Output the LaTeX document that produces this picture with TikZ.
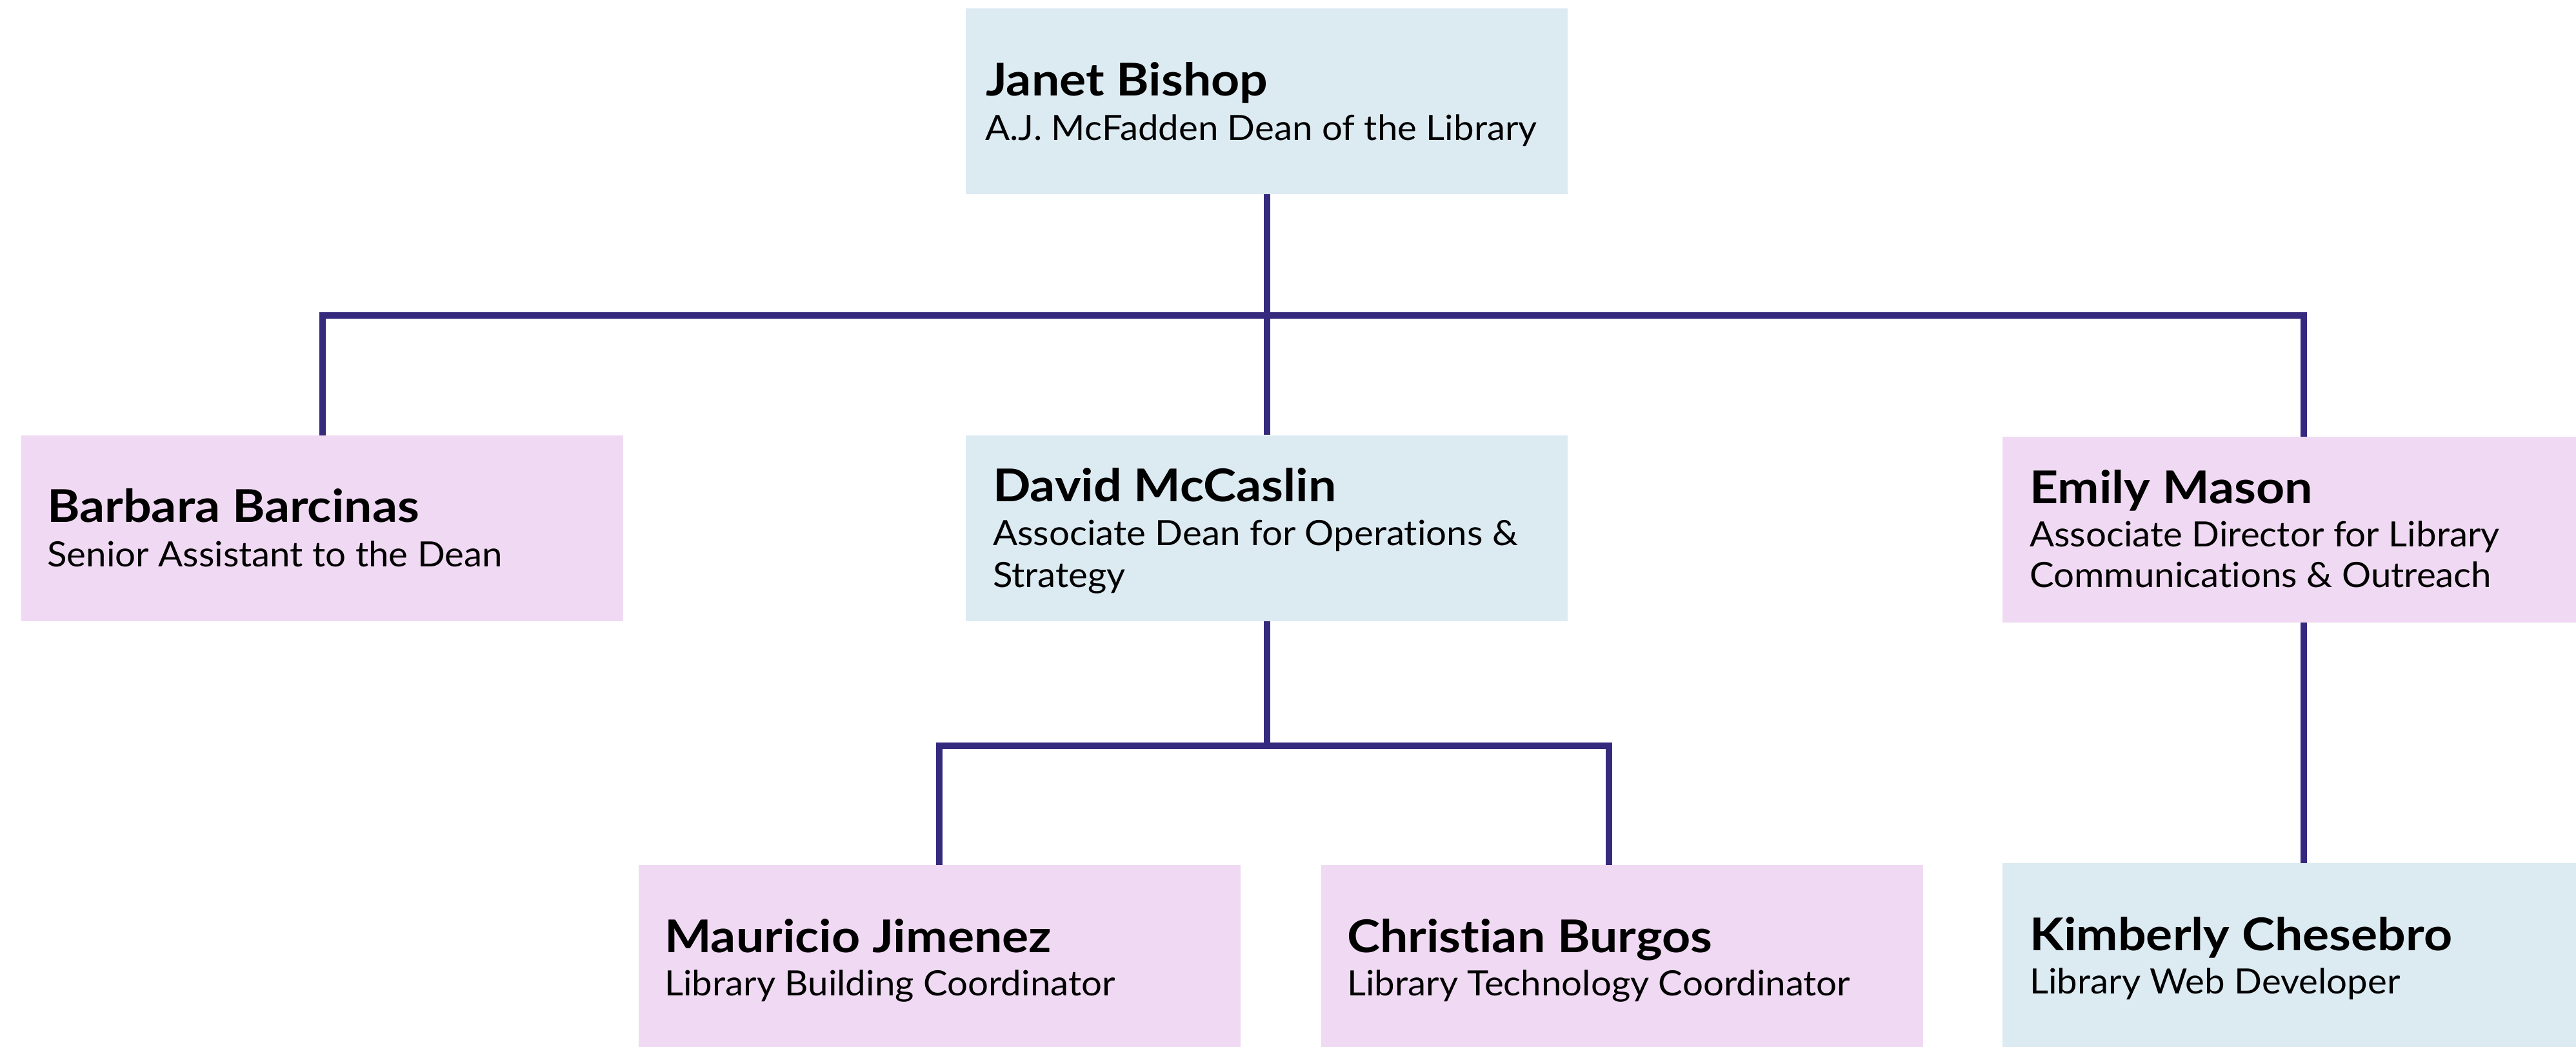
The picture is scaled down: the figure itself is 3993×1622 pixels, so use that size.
\documentclass[tikz,border=0pt]{standalone}
\usepackage{fontspec}
\newfontfamily\latonamefam[FakeStretch=1.10,Ligatures=NoCommon]{Lato}
\newfontfamily\latorolefam[FakeStretch=1.045,Ligatures=NoCommon]{Lato}
\newcommand{\orgnamefont}{\latonamefam\bfseries\fontsize{70}{80}\selectfont}
\newcommand{\orgrolefont}{\latorolefam\fontsize{54}{62}\selectfont}
\definecolor{boxblue}{RGB}{220,234,242}
\definecolor{boxpink}{RGB}{240,217,242}
\definecolor{linecol}{RGB}{53,42,126}
\begin{document}
\begin{tikzpicture}[x=1pt,y=-1pt,
  box/.style={rectangle, inner sep=0pt, minimum width=933pt, minimum height=288pt, draw=none},
  bluebox/.style={box, fill=boxblue},
  pinkbox/.style={box, fill=boxpink},
  nametext/.style={anchor=base west, inner sep=0pt, font=\orgnamefont},
  roletext/.style={anchor=base west, inner sep=0pt, font=\orgrolefont},
  link/.style={draw=linecol, line width=10pt}]
\useasboundingbox (0,0) rectangle (3993,1622);
\clip (0,0) rectangle (3993,1622);
% boxes
\node[bluebox] (jb) at (1963.5,156.5) {};
\node[pinkbox] (bb) at (499.5,819) {};
\node[bluebox] (dm) at (1963.5,818.5) {};
\node[pinkbox] (em) at (3570.5,821) {};
\node[pinkbox] (mj) at (1456,1485) {};
\node[pinkbox] (cb) at (2514,1485) {};
\node[bluebox] (kc) at (3570.5,1482) {};
% connectors
\coordinate (busa) at (0,489);
\coordinate (busb) at (0,1156);
\coordinate (cbin) at (2494,1341);
\draw[link] (jb.south) -- (dm.north);
\draw[link] (bb.north) |- (busa -| em.north) -- (em.north);
\draw[link] (em.south) -- (kc.north);
\draw[link] (dm.south) -- (dm.south |- busb);
\draw[link] (mj.north) |- (busb -| cbin) -- (cbin);
% texts
\node[nametext] (jbn) at (1528,148) {Janet Bishop};
\node[roletext] (jbr) at (1527,217) {A.J. McFadden Dean of the Library};
\node[nametext] (bbn) at (73,809) {Barbara Barcinas};
\node[roletext] (bbr) at (73,878) {Senior Assistant to the Dean};
\node[nametext] (dmn) at (1539,777) {David McCaslin};
\node[roletext] (dmr1) at (1539,845) {Associate Dean for Operations \&};
\node[roletext] (dmr2) at (1539,910) {Strategy};
\node[nametext] (emn) at (3146,780) {Emily Mason};
\node[roletext] (emr1) at (3146,847) {Associate Director for Library};
\node[roletext] (emr2) at (3146,910) {Communications \& Outreach};
\node[nametext] (mjn) at (1030,1476) {Mauricio Jimenez};
\node[roletext] (mjr) at (1030,1543) {Library Building Coordinator};
\node[nametext] (cbn) at (2088,1476) {Christian Burgos};
\node[roletext] (cbr) at (2088,1543) {Library Technology Coordinator};
\node[nametext] (kcn) at (3146,1473) {Kimberly Chesebro};
\node[roletext] (kcr) at (3146,1540) {Library Web Developer};
\end{tikzpicture}
\end{document}
